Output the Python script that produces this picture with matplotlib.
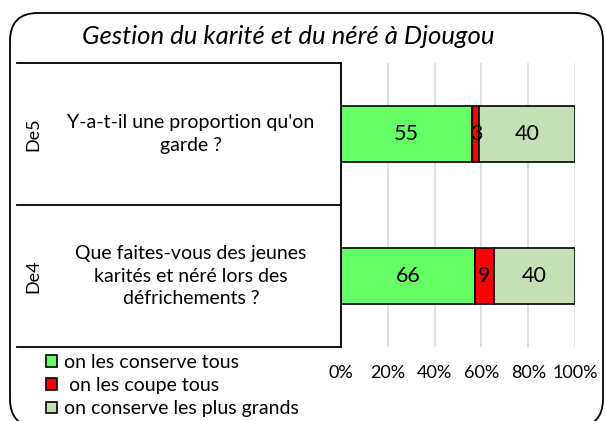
import matplotlib.pyplot as plt
import matplotlib.transforms as mtransforms
from matplotlib.patches import FancyBboxPatch, Patch
from matplotlib.lines import Line2D

plt.rcParams['font.family'] = ['Lato', 'DejaVu Sans']

title = "Gestion du karité et du néré à Djougou"
codes = ["De4", "De5"]
questions = ["Que faites-vous des jeunes\nkarités et néré lors des\ndéfrichements ?",
             "Y-a-t-il une proportion qu'on\ngarde ?"]
series = ["on les conserve tous", " on les coupe tous", "on conserve les plus grands"]
values = [[66, 55],   # on les conserve tous
          [9, 3],     # on les coupe tous
          [40, 40]]   # on conserve les plus grands
colors = ["#66FF66", "#FF0000", "#C5E0B4"]
ticks = [0, 0.2, 0.4, 0.6, 0.8, 1.0]
tick_labels = ["0%", "20%", "40%", "60%", "80%", "100%"]

W, H = 606, 421
fig = plt.figure(figsize=(W / 100, H / 100), dpi=100)

# rounded frame around the whole chart
frame = FancyBboxPatch((0.10, -0.06), 5.93, 4.14, boxstyle="round,pad=0,rounding_size=0.28",
                       transform=fig.dpi_scale_trans, facecolor="none", edgecolor="black",
                       linewidth=1.3, clip_on=False, zorder=-1)
fig.patches.append(frame)

ax = fig.add_axes([341 / W, 1 - 347 / H, 234 / W, 284 / H])
ax.set_facecolor("none")

totals = [sum(v[i] for v in values) for i in range(len(codes))]
ypos = list(range(len(codes)))
left = [0.0] * len(codes)
for vals, col, name in zip(values, colors, series):
    frac = [v / t for v, t in zip(vals, totals)]
    bars = ax.barh(ypos, frac, left=left, height=0.4, color=col, edgecolor="black",
                   linewidth=1.2, label=name, zorder=3)
    for b, v in zip(bars, vals):
        ax.text(b.get_x() + b.get_width() / 2, b.get_y() + b.get_height() / 2, str(v),
                ha="center", va="center", fontsize=15.5, color="black", zorder=4)
    left = [l + f for l, f in zip(left, frac)]

ax.set_xlim(0, 1)
ax.set_ylim(-0.5, 1.5)
ax.set_xticks(ticks)
ax.set_xticklabels(tick_labels, fontsize=13)
ax.tick_params(axis="x", length=0, pad=13)
ax.set_yticks([])
ax.grid(axis="x", color="#D9D9D9", linewidth=1.2, zorder=0)
for s in ["top", "right", "bottom"]:
    ax.spines[s].set_visible(False)
ax.spines["left"].set_linewidth(1.3)
ax.spines["left"].set_zorder(5)

# category table on the left of the axis
tr = mtransforms.blended_transform_factory(fig.transFigure, ax.transData)
x0, x1 = 17 / W, 341 / W
for y in [-0.5, 0.5, 1.5]:
    fig.add_artist(Line2D([x0, x1], [y, y], transform=tr, color="black", linewidth=1.3))
for y, code, q in zip(ypos, codes, questions):
    fig.text(33 / W, y, code, transform=tr, rotation=90, ha="center", va="center", fontsize=13)
    fig.text(191 / W, y, q, transform=tr, ha="center", va="center", fontsize=14,
             linespacing=1.4)

fig.text(288 / W, 1 - 37 / H, title, ha="center", va="center", fontsize=18.5, style="italic")

handles = [Patch(facecolor=c, edgecolor="black", linewidth=1.2) for c in colors]
fig.legend(handles, series, loc="upper left", bbox_to_anchor=(46 / W, 1 - 354 / H),
           frameon=False, fontsize=14, handlelength=0.55, handleheight=0.55,
           handletextpad=0.4, labelspacing=0.32, borderpad=0, borderaxespad=0)

fig.savefig("out.png", dpi=100)
